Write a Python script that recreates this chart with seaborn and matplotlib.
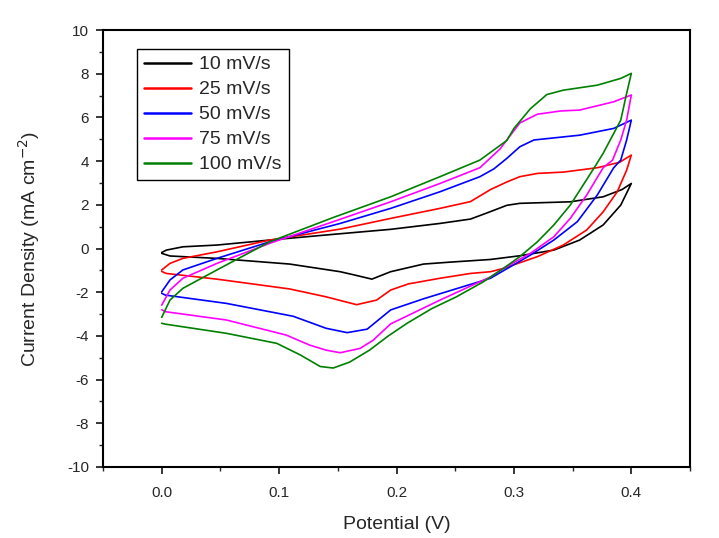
import pandas as pd
import seaborn as sns
import matplotlib.pyplot as plt
import matplotlib.ticker as ticker

sns.set_style("ticks")
plt.rcParams['font.family'] = ['Liberation Sans', 'DejaVu Sans']
plt.rcParams['axes.unicode_minus'] = False

# cyclic voltammograms: forward sweep 0 -> 0.4 V, then back to 0 V
pot_10 = [0.000, 0.004, 0.018, 0.047, 0.092, 0.146, 0.195, 0.237, 0.263, 0.278, 0.294, 0.305, 0.348, 0.376, 0.392, 0.400,
          0.391, 0.376, 0.356, 0.334, 0.305, 0.280, 0.246, 0.223, 0.195, 0.179, 0.165, 0.152, 0.109, 0.047, 0.007, 0.000]
cur_10 = [-0.18, -0.07, 0.08, 0.16, 0.39, 0.65, 0.88, 1.15, 1.35, 1.65, 1.98, 2.07, 2.14, 2.37, 2.70, 2.98,
          1.99, 1.08, 0.39, -0.07, -0.33, -0.50, -0.62, -0.71, -1.06, -1.40, -1.22, -1.06, -0.71, -0.45, -0.34, -0.22]

pot_25 = [0.000, 0.007, 0.018, 0.047, 0.092, 0.152, 0.195, 0.237, 0.263, 0.280, 0.294, 0.305, 0.320, 0.342, 0.371, 0.390, 0.400,
          0.396, 0.388, 0.376, 0.362, 0.342, 0.320, 0.291, 0.280, 0.263, 0.237, 0.210, 0.195, 0.183, 0.166, 0.140, 0.109, 0.047, 0.004, 0.000]
cur_25 = [-0.98, -0.68, -0.45, -0.15, 0.39, 0.89, 1.38, 1.84, 2.15, 2.70, 3.05, 3.29, 3.44, 3.50, 3.70, 3.95, 4.28,
          3.59, 2.60, 1.68, 0.85, 0.16, -0.37, -0.91, -1.06, -1.14, -1.36, -1.62, -1.90, -2.36, -2.57, -2.21, -1.85, -1.40, -1.14, -1.05]

pot_50 = [0.000, 0.007, 0.018, 0.047, 0.092, 0.152, 0.195, 0.237, 0.271, 0.283, 0.294, 0.305, 0.317, 0.356, 0.385, 0.400,
          0.396, 0.391, 0.385, 0.371, 0.354, 0.334, 0.314, 0.280, 0.223, 0.195, 0.175, 0.158, 0.140, 0.112, 0.055, 0.003, 0.000]
cur_50 = [-1.98, -1.44, -0.98, -0.45, 0.31, 1.15, 1.84, 2.60, 3.29, 3.65, 4.13, 4.66, 4.97, 5.19, 5.50, 5.88,
          4.97, 4.05, 3.70, 2.45, 1.23, 0.39, -0.30, -1.36, -2.30, -2.81, -3.69, -3.85, -3.65, -3.10, -2.51, -2.13, -2.05]

pot_75 = [0.000, 0.007, 0.018, 0.047, 0.092, 0.152, 0.195, 0.237, 0.271, 0.288, 0.305, 0.320, 0.340, 0.356, 0.385, 0.400,
          0.396, 0.391, 0.384, 0.376, 0.362, 0.348, 0.334, 0.314, 0.291, 0.280, 0.237, 0.195, 0.180, 0.169, 0.152, 0.140,
          0.126, 0.106, 0.055, 0.003, 0.000]
cur_75 = [-2.59, -1.90, -1.36, -0.68, 0.24, 1.34, 2.14, 2.98, 3.70, 4.55, 5.75, 6.15, 6.30, 6.34, 6.72, 7.03,
          5.88, 4.97, 4.05, 3.70, 2.45, 1.38, 0.54, -0.22, -0.91, -1.30, -2.36, -3.45, -4.20, -4.57, -4.77, -4.65,
          -4.42, -3.96, -3.27, -2.89, -2.80]

pot_100 = [0.000, 0.007, 0.018, 0.047, 0.092, 0.146, 0.195, 0.237, 0.271, 0.294, 0.300, 0.314, 0.328, 0.342, 0.371, 0.391, 0.400,
           0.396, 0.391, 0.385, 0.376, 0.369, 0.359, 0.348, 0.334, 0.320, 0.305, 0.291, 0.274, 0.251, 0.230, 0.209, 0.193,
           0.177, 0.160, 0.146, 0.135, 0.118, 0.098, 0.055, 0.003, 0.000]
cur_100 = [-3.15, -2.36, -1.82, -0.98, 0.31, 1.42, 2.37, 3.29, 4.05, 4.95, 5.50, 6.40, 7.05, 7.25, 7.48, 7.79, 8.02,
           7.10, 5.88, 5.27, 4.36, 3.75, 2.91, 1.99, 1.08, 0.31, -0.37, -0.91, -1.52, -2.21, -2.75, -3.42, -4.00,
           -4.65, -5.20, -5.47, -5.40, -4.87, -4.34, -3.88, -3.46, -3.42]

rates = ['10 mV/s', '25 mV/s', '50 mV/s', '75 mV/s', '100 mV/s']
pots = [pot_10, pot_25, pot_50, pot_75, pot_100]
curs = [cur_10, cur_25, cur_50, cur_75, cur_100]
colors = ['black', 'red', 'blue', 'magenta', 'green']

frames = []
for r, p, c in zip(rates, pots, curs):
    frames.append(pd.DataFrame({'Potential': p, 'Current': c, 'Rate': r}))
data = pd.concat(frames, ignore_index=True)

fig = plt.figure(figsize=(7.19, 5.38), dpi=100)
ax = fig.add_axes([0.1433, 0.132, 0.8164, 0.812])

sns.lineplot(data=data, x='Potential', y='Current', hue='Rate', palette=colors,
             sort=False, estimator=None, linewidth=1.2, ax=ax)

ax.set_xlim(-0.05, 0.45)
ax.set_ylim(-10, 10)
ax.xaxis.set_major_locator(ticker.FixedLocator([0.0, 0.1, 0.2, 0.3, 0.4]))
ax.xaxis.set_major_formatter(ticker.FormatStrFormatter('%.1f'))
ax.xaxis.set_minor_locator(ticker.MultipleLocator(0.05))
ax.yaxis.set_major_locator(ticker.MultipleLocator(2))
ax.yaxis.set_minor_locator(ticker.MultipleLocator(1))
ax.tick_params(which='major', direction='out', length=5, width=1.3, labelsize=11, top=False, right=False)
ax.tick_params(which='minor', direction='out', length=3, width=1.0, top=False, right=False)
ax.tick_params(axis='x', which='major', pad=9)
ax.tick_params(axis='y', which='major', pad=5)
for s in ax.spines.values():
    s.set_linewidth(1.5)
    s.set_color('black')

ax.set_xlabel('Potential (V)', fontsize=14, labelpad=11)
ax.set_ylabel('Current Density (mA cm$^{-2}$)', fontsize=14, labelpad=18)

sns.move_legend(ax, 'upper left', bbox_to_anchor=(0.058, 0.957), borderaxespad=0, title=None,
                frameon=True, fancybox=False, edgecolor='black', framealpha=1, fontsize=14,
                handlelength=2.4, handletextpad=0.45, labelspacing=0.38, borderpad=0.35)
leg = ax.get_legend()
leg.get_frame().set_linewidth(1.0)
for line in leg.get_lines():
    line.set_linewidth(1.8)

fig.savefig('out.png', dpi=100)
